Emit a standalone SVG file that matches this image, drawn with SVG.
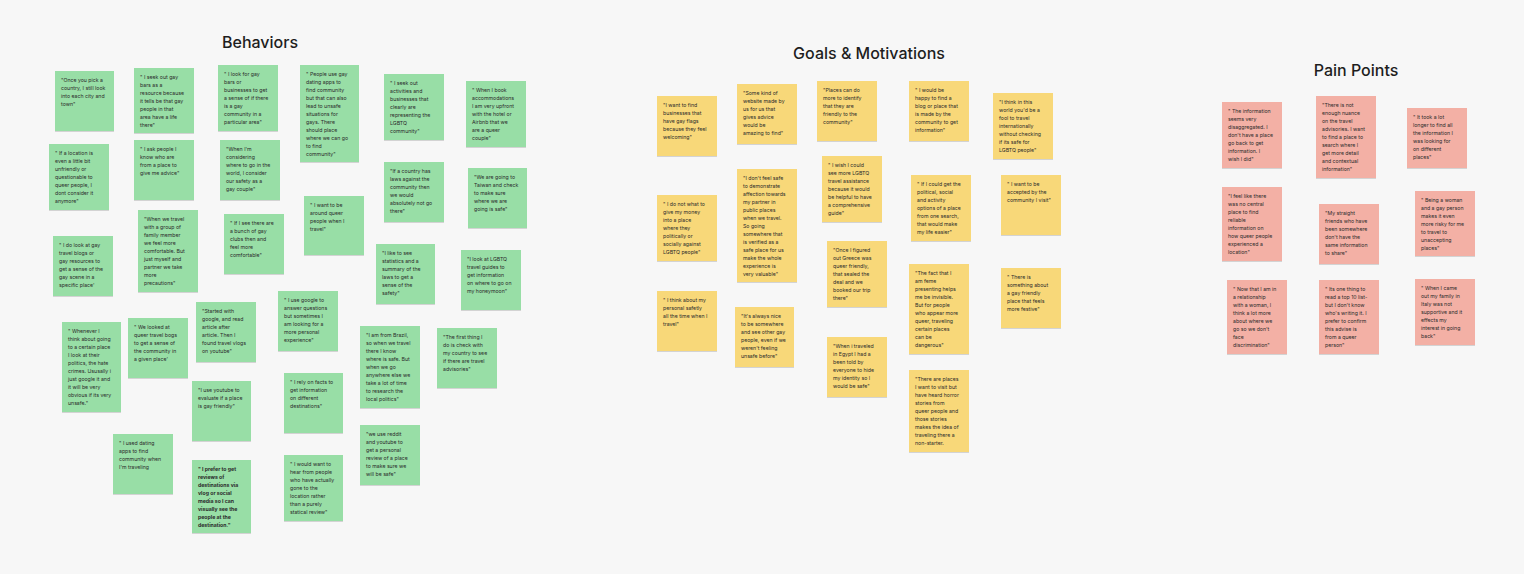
<svg xmlns="http://www.w3.org/2000/svg" width="1524" height="574" viewBox="0 0 1524 574">
<defs>
<filter id="sh" x="-10%" y="-10%" width="120%" height="125%"><feDropShadow dx="0" dy="0.8" stdDeviation="0.7" flood-color="#000" flood-opacity="0.18"/></filter>
<style>
.g{fill:#98dea6;filter:url(#sh)}
.y{fill:#f8d879;filter:url(#sh)}
.p{fill:#f3b0a5;filter:url(#sh)}
.t{font-family:Inter,"Liberation Sans",sans-serif;font-size:5.2px;fill:#2b2b2b}
.b{font-weight:700}
.h{font-family:Inter,"Liberation Sans",sans-serif;font-size:16px;font-weight:500;fill:#1e1e1e;text-anchor:middle}
</style>
</defs>
<rect width="1524" height="574" fill="#f7f7f7"/>
<g id="titles">
<text class="h" x="260" y="48">Behaviors</text>
<text class="h" x="869" y="59">Goals &amp; Motivations</text>
<text class="h" x="1356" y="76">Pain Points</text>
</g>
<g id="connectors"/>
<g id="behaviors">
<g id="b1" transform="translate(55,71)"><rect class="g" width="59" height="60"/><text class="t" y="3"><tspan x="6" dy="8">"Once you pick a</tspan><tspan x="6" dy="8">country, I still look</tspan><tspan x="6" dy="8">into each city and</tspan><tspan x="6" dy="8">town"</tspan></text></g>
<g id="b2" transform="translate(134,68)"><rect class="g" width="60" height="65"/><text class="t" y="3"><tspan x="6" dy="8">" I seek out gay</tspan><tspan x="6" dy="8">bars as a</tspan><tspan x="6" dy="8">resource because</tspan><tspan x="6" dy="8">it tells be that gay</tspan><tspan x="6" dy="8">people in that</tspan><tspan x="6" dy="8">area have a life</tspan><tspan x="6" dy="8">there"</tspan></text></g>
<g id="b3" transform="translate(218,65)"><rect class="g" width="60" height="66"/><text class="t" y="3"><tspan x="6" dy="8">" I look for gay</tspan><tspan x="6" dy="8">bars or</tspan><tspan x="6" dy="8">businesses to get</tspan><tspan x="6" dy="8">a sense of if there</tspan><tspan x="6" dy="8">is a gay</tspan><tspan x="6" dy="8">community in a</tspan><tspan x="6" dy="8">particular area"</tspan></text></g>
<g id="b4" transform="translate(300,65)"><rect class="g" width="59" height="97"/><text class="t" y="3"><tspan x="6" dy="8">" People use gay</tspan><tspan x="6" dy="8">dating apps to</tspan><tspan x="6" dy="8">find community</tspan><tspan x="6" dy="8">but that can also</tspan><tspan x="6" dy="8">lead to unsafe</tspan><tspan x="6" dy="8">situations for</tspan><tspan x="6" dy="8">gays. There</tspan><tspan x="6" dy="8">should place</tspan><tspan x="6" dy="8">where we can go</tspan><tspan x="6" dy="8">to find</tspan><tspan x="6" dy="8">community"</tspan></text></g>
<g id="b5" transform="translate(384,74)"><rect class="g" width="60" height="66"/><text class="t" y="3"><tspan x="6" dy="8">" I seek out</tspan><tspan x="6" dy="8">activities and</tspan><tspan x="6" dy="8">businesses that</tspan><tspan x="6" dy="8">clearly are</tspan><tspan x="6" dy="8">representing the</tspan><tspan x="6" dy="8">LGBTQ</tspan><tspan x="6" dy="8">community"</tspan></text></g>
<g id="b6" transform="translate(466,81)"><rect class="g" width="60" height="66"/><text class="t" y="3"><tspan x="6" dy="8">" When I book</tspan><tspan x="6" dy="8">accommodations</tspan><tspan x="6" dy="8">I am very upfront</tspan><tspan x="6" dy="8">with the hotel or</tspan><tspan x="6" dy="8">Airbnb that we</tspan><tspan x="6" dy="8">are a queer</tspan><tspan x="6" dy="8">couple"</tspan></text></g>
<g id="b7" transform="translate(49,144)"><rect class="g" width="60" height="66"/><text class="t" y="3"><tspan x="6" dy="8">" If a location is</tspan><tspan x="6" dy="8">even a little bit</tspan><tspan x="6" dy="8">unfriendly or</tspan><tspan x="6" dy="8">questionable to</tspan><tspan x="6" dy="8">queer people, I</tspan><tspan x="6" dy="8">dont consider it</tspan><tspan x="6" dy="8">anymore"</tspan></text></g>
<g id="b8" transform="translate(134,140)"><rect class="g" width="60" height="60"/><text class="t" y="3"><tspan x="6" dy="8">" I ask people I</tspan><tspan x="6" dy="8">know who are</tspan><tspan x="6" dy="8">from a place to</tspan><tspan x="6" dy="8">give me advice"</tspan></text></g>
<g id="b9" transform="translate(220,140)"><rect class="g" width="60" height="60"/><text class="t" y="3"><tspan x="6" dy="8">"When I'm</tspan><tspan x="6" dy="8">considering</tspan><tspan x="6" dy="8">where to go in the</tspan><tspan x="6" dy="8">world, I consider</tspan><tspan x="6" dy="8">our safety as a</tspan><tspan x="6" dy="8">gay couple"</tspan></text></g>
<g id="b10" transform="translate(384,162)"><rect class="g" width="60" height="60"/><text class="t" y="3"><tspan x="6" dy="8">"If a country has</tspan><tspan x="6" dy="8">laws against the</tspan><tspan x="6" dy="8">community then</tspan><tspan x="6" dy="8">we would</tspan><tspan x="6" dy="8">absolutely not go</tspan><tspan x="6" dy="8">there"</tspan></text></g>
<g id="b11" transform="translate(468,168)"><rect class="g" width="59" height="60"/><text class="t" y="3"><tspan x="6" dy="8">"We are going to</tspan><tspan x="6" dy="8">Taiwan and check</tspan><tspan x="6" dy="8">to make sure</tspan><tspan x="6" dy="8">where we are</tspan><tspan x="6" dy="8">going is safe"</tspan></text></g>
<g id="b12" transform="translate(304,196)"><rect class="g" width="60" height="59"/><text class="t" y="3"><tspan x="6" dy="8">" I want to be</tspan><tspan x="6" dy="8">around queer</tspan><tspan x="6" dy="8">people when I</tspan><tspan x="6" dy="8">travel"</tspan></text></g>
<g id="b13" transform="translate(138,210)"><rect class="g" width="60" height="82"/><text class="t" y="3"><tspan x="6" dy="8">"When we travel</tspan><tspan x="6" dy="8">with a group of</tspan><tspan x="6" dy="8">family member</tspan><tspan x="6" dy="8">we feel more</tspan><tspan x="6" dy="8">comfortable. But</tspan><tspan x="6" dy="8">just myself and</tspan><tspan x="6" dy="8">partner we take</tspan><tspan x="6" dy="8">more</tspan><tspan x="6" dy="8">precautions"</tspan></text></g>
<g id="b14" transform="translate(224,214)"><rect class="g" width="60" height="60"/><text class="t" y="3"><tspan x="6" dy="8">" If I see there are</tspan><tspan x="6" dy="8">a bunch of gay</tspan><tspan x="6" dy="8">clubs then and</tspan><tspan x="6" dy="8">feel more</tspan><tspan x="6" dy="8">comfortable"</tspan></text></g>
<g id="b15" transform="translate(53,236)"><rect class="g" width="60" height="60"/><text class="t" y="3"><tspan x="6" dy="8">" I do look at gay</tspan><tspan x="6" dy="8">travel blogs or</tspan><tspan x="6" dy="8">gay resources to</tspan><tspan x="6" dy="8">get a sense of the</tspan><tspan x="6" dy="8">gay scene in a</tspan><tspan x="6" dy="8">specific place'</tspan></text></g>
<g id="b16" transform="translate(376,244)"><rect class="g" width="59" height="60"/><text class="t" y="3"><tspan x="6" dy="8">"I like to see</tspan><tspan x="6" dy="8">statistics and a</tspan><tspan x="6" dy="8">summary of the</tspan><tspan x="6" dy="8">laws to get a</tspan><tspan x="6" dy="8">sense of the</tspan><tspan x="6" dy="8">safety"</tspan></text></g>
<g id="b17" transform="translate(461,250)"><rect class="g" width="60" height="60"/><text class="t" y="3"><tspan x="6" dy="8">"I look at LGBTQ</tspan><tspan x="6" dy="8">travel guides to</tspan><tspan x="6" dy="8">get information</tspan><tspan x="6" dy="8">on where to go on</tspan><tspan x="6" dy="8">my honeymoon"</tspan></text></g>
<g id="b18" transform="translate(278,291)"><rect class="g" width="60" height="60"/><text class="t" y="3"><tspan x="6" dy="8">" I use google to</tspan><tspan x="6" dy="8">answer questions</tspan><tspan x="6" dy="8">but sometimes I</tspan><tspan x="6" dy="8">am looking for a</tspan><tspan x="6" dy="8">more personal</tspan><tspan x="6" dy="8">experience"</tspan></text></g>
<g id="b19" transform="translate(196,302)"><rect class="g" width="60" height="60"/><text class="t" y="3"><tspan x="6" dy="8">"Started with</tspan><tspan x="6" dy="8">google, and read</tspan><tspan x="6" dy="8">article after</tspan><tspan x="6" dy="8">article. Then I</tspan><tspan x="6" dy="8">found travel vlogs</tspan><tspan x="6" dy="8">on youtube"</tspan></text></g>
<g id="b20" transform="translate(62,322)"><rect class="g" width="59" height="90"/><text class="t" y="3"><tspan x="6" dy="8">" Whenever I</tspan><tspan x="6" dy="8">think about going</tspan><tspan x="6" dy="8">to a certain place</tspan><tspan x="6" dy="8">I look at their</tspan><tspan x="6" dy="8">politics, the hate</tspan><tspan x="6" dy="8">crimes. Ususally i</tspan><tspan x="6" dy="8">just google it and</tspan><tspan x="6" dy="8">it will be very</tspan><tspan x="6" dy="8">obvious if its very</tspan><tspan x="6" dy="8">unsafe."</tspan></text></g>
<g id="b21" transform="translate(128,318)"><rect class="g" width="60" height="60"/><text class="t" y="3"><tspan x="6" dy="8">" We looked at</tspan><tspan x="6" dy="8">queer travel bogs</tspan><tspan x="6" dy="8">to get a sense of</tspan><tspan x="6" dy="8">the community in</tspan><tspan x="6" dy="8">a given place'</tspan></text></g>
<g id="b22" transform="translate(360,326)"><rect class="g" width="60" height="82"/><text class="t" y="3"><tspan x="6" dy="8">"I am from Brazil,</tspan><tspan x="6" dy="8">so when we travel</tspan><tspan x="6" dy="8">there I know</tspan><tspan x="6" dy="8">where is safe. But</tspan><tspan x="6" dy="8">when we go</tspan><tspan x="6" dy="8">anywhere else we</tspan><tspan x="6" dy="8">take a lot of time</tspan><tspan x="6" dy="8">to research the</tspan><tspan x="6" dy="8">local politics"</tspan></text></g>
<g id="b23" transform="translate(437,328)"><rect class="g" width="60" height="60"/><text class="t" y="3"><tspan x="6" dy="8">"The first thing I</tspan><tspan x="6" dy="8">do is check with</tspan><tspan x="6" dy="8">my country to see</tspan><tspan x="6" dy="8">if there are travel</tspan><tspan x="6" dy="8">advisories"</tspan></text></g>
<g id="b24" transform="translate(284,373)"><rect class="g" width="59" height="60"/><text class="t" y="3"><tspan x="6" dy="8">" I rely on facts to</tspan><tspan x="6" dy="8">get information</tspan><tspan x="6" dy="8">on different</tspan><tspan x="6" dy="8">destinations"</tspan></text></g>
<g id="b25" transform="translate(192,381)"><rect class="g" width="59" height="60"/><text class="t" y="3"><tspan x="6" dy="8">"I use youtube to</tspan><tspan x="6" dy="8">evaluate if a place</tspan><tspan x="6" dy="8">is gay friendly"</tspan></text></g>
<g id="b26" transform="translate(360,425)"><rect class="g" width="60" height="60"/><text class="t" y="3"><tspan x="6" dy="8">"we use reddit</tspan><tspan x="6" dy="8">and youtube to</tspan><tspan x="6" dy="8">get a personal</tspan><tspan x="6" dy="8">review of a place</tspan><tspan x="6" dy="8">to make sure we</tspan><tspan x="6" dy="8">will be safe"</tspan></text></g>
<g id="b27" transform="translate(113,434)"><rect class="g" width="60" height="60"/><text class="t" y="3"><tspan x="6" dy="8">" I used dating</tspan><tspan x="6" dy="8">apps to find</tspan><tspan x="6" dy="8">community when</tspan><tspan x="6" dy="8">I'm traveling</tspan></text></g>
<g id="b28" transform="translate(284,455)"><rect class="g" width="59" height="66"/><text class="t" y="3"><tspan x="6" dy="8">" I would want to</tspan><tspan x="6" dy="8">hear from people</tspan><tspan x="6" dy="8">who have actually</tspan><tspan x="6" dy="8">gone to the</tspan><tspan x="6" dy="8">location rather</tspan><tspan x="6" dy="8">than a purely</tspan><tspan x="6" dy="8">statical review"</tspan></text></g>
<g id="b29" transform="translate(192,460)"><rect class="g" width="59" height="73"/><text class="t b" y="3"><tspan x="6" dy="8">" I prefer to get</tspan><tspan x="6" dy="8">reviews of</tspan><tspan x="6" dy="8">destinations via</tspan><tspan x="6" dy="8">vlog or social</tspan><tspan x="6" dy="8">media so I can</tspan><tspan x="6" dy="8">visually see the</tspan><tspan x="6" dy="8">people at the</tspan><tspan x="6" dy="8">destination."</tspan></text></g>
</g>
<g id="goals">
<g id="g1" transform="translate(657,96)"><rect class="y" width="60" height="60"/><text class="t" y="3"><tspan x="6" dy="8">"I want to find</tspan><tspan x="6" dy="8">businesses that</tspan><tspan x="6" dy="8">have gay flags</tspan><tspan x="6" dy="8">because they feel</tspan><tspan x="6" dy="8">welcoming"</tspan></text></g>
<g id="g2" transform="translate(737,84)"><rect class="y" width="60" height="60"/><text class="t" y="3"><tspan x="6" dy="8">"Some kind of</tspan><tspan x="6" dy="8">website made by</tspan><tspan x="6" dy="8">us for us that</tspan><tspan x="6" dy="8">gives advice</tspan><tspan x="6" dy="8">would be</tspan><tspan x="6" dy="8">amazing to find"</tspan></text></g>
<g id="g3" transform="translate(817,81)"><rect class="y" width="60" height="60"/><text class="t" y="3"><tspan x="6" dy="8">"Places can do</tspan><tspan x="6" dy="8">more to identify</tspan><tspan x="6" dy="8">that they are</tspan><tspan x="6" dy="8">friendly to the</tspan><tspan x="6" dy="8">community"</tspan></text></g>
<g id="g4" transform="translate(909,81)"><rect class="y" width="60" height="60"/><text class="t" y="3"><tspan x="6" dy="8">" I would be</tspan><tspan x="6" dy="8">happy to find a</tspan><tspan x="6" dy="8">blog or place that</tspan><tspan x="6" dy="8">is made by the</tspan><tspan x="6" dy="8">community to get</tspan><tspan x="6" dy="8">information"</tspan></text></g>
<g id="g5" transform="translate(993,93)"><rect class="y" width="60" height="66"/><text class="t" y="3"><tspan x="6" dy="8">"I think in this</tspan><tspan x="6" dy="8">world you'd be a</tspan><tspan x="6" dy="8">fool to travel</tspan><tspan x="6" dy="8">internationally</tspan><tspan x="6" dy="8">without checking</tspan><tspan x="6" dy="8">if its safe for</tspan><tspan x="6" dy="8">LGBTQ people"</tspan></text></g>
<g id="g6" transform="translate(657,195)"><rect class="y" width="60" height="66"/><text class="t" y="3"><tspan x="6" dy="8">" I do not what to</tspan><tspan x="6" dy="8">give my money</tspan><tspan x="6" dy="8">into a place</tspan><tspan x="6" dy="8">where they</tspan><tspan x="6" dy="8">politically or</tspan><tspan x="6" dy="8">socially against</tspan><tspan x="6" dy="8">LGBTQ people"</tspan></text></g>
<g id="g7" transform="translate(737,169)"><rect class="y" width="60" height="113"/><text class="t" y="3"><tspan x="6" dy="8">"I don't feel safe</tspan><tspan x="6" dy="8">to demonstrate</tspan><tspan x="6" dy="8">affection towards</tspan><tspan x="6" dy="8">my partner in</tspan><tspan x="6" dy="8">public places</tspan><tspan x="6" dy="8">when we travel.</tspan><tspan x="6" dy="8">So going</tspan><tspan x="6" dy="8">somewhere that</tspan><tspan x="6" dy="8">is verified as a</tspan><tspan x="6" dy="8">safe place for us</tspan><tspan x="6" dy="8">make the whole</tspan><tspan x="6" dy="8">experience is</tspan><tspan x="6" dy="8">very valuable"</tspan></text></g>
<g id="g8" transform="translate(822,156)"><rect class="y" width="60" height="66"/><text class="t" y="3"><tspan x="6" dy="8">" I wish I could</tspan><tspan x="6" dy="8">see more LGBTQ</tspan><tspan x="6" dy="8">travel assistance</tspan><tspan x="6" dy="8">because it would</tspan><tspan x="6" dy="8">be helpful to have</tspan><tspan x="6" dy="8">a comprehensive</tspan><tspan x="6" dy="8">guide"</tspan></text></g>
<g id="g9" transform="translate(911,175)"><rect class="y" width="60" height="66"/><text class="t" y="3"><tspan x="6" dy="8">" If I could get the</tspan><tspan x="6" dy="8">political, social</tspan><tspan x="6" dy="8">and activity</tspan><tspan x="6" dy="8">options of a place</tspan><tspan x="6" dy="8">from one search,</tspan><tspan x="6" dy="8">that would make</tspan><tspan x="6" dy="8">my life easier"</tspan></text></g>
<g id="g10" transform="translate(1001,175)"><rect class="y" width="60" height="60"/><text class="t" y="3"><tspan x="6" dy="8">" I want to be</tspan><tspan x="6" dy="8">accepted by the</tspan><tspan x="6" dy="8">community I visit"</tspan></text></g>
<g id="g11" transform="translate(827,241)"><rect class="y" width="60" height="66"/><text class="t" y="3"><tspan x="6" dy="8">"Once I figured</tspan><tspan x="6" dy="8">out Greece was</tspan><tspan x="6" dy="8">queer friendly,</tspan><tspan x="6" dy="8">that sealed the</tspan><tspan x="6" dy="8">deal and we</tspan><tspan x="6" dy="8">booked our trip</tspan><tspan x="6" dy="8">there"</tspan></text></g>
<g id="g12" transform="translate(909,264)"><rect class="y" width="60" height="90"/><text class="t" y="3"><tspan x="6" dy="8">"The fact that I</tspan><tspan x="6" dy="8">am feme</tspan><tspan x="6" dy="8">presenting helps</tspan><tspan x="6" dy="8">me be invisible.</tspan><tspan x="6" dy="8">But for people</tspan><tspan x="6" dy="8">who appear more</tspan><tspan x="6" dy="8">queer, traveling</tspan><tspan x="6" dy="8">certain places</tspan><tspan x="6" dy="8">can be</tspan><tspan x="6" dy="8">dangerous"</tspan></text></g>
<g id="g13" transform="translate(1001,268)"><rect class="y" width="60" height="60"/><text class="t" y="3"><tspan x="6" dy="8">" There is</tspan><tspan x="6" dy="8">something about</tspan><tspan x="6" dy="8">a gay friendly</tspan><tspan x="6" dy="8">place that feels</tspan><tspan x="6" dy="8">more festive"</tspan></text></g>
<g id="g14" transform="translate(657,291)"><rect class="y" width="60" height="60"/><text class="t" y="3"><tspan x="6" dy="8">" I think about my</tspan><tspan x="6" dy="8">personal safetly</tspan><tspan x="6" dy="8">all the time when I</tspan><tspan x="6" dy="8">travel"</tspan></text></g>
<g id="g15" transform="translate(735,307)"><rect class="y" width="59" height="60"/><text class="t" y="3"><tspan x="6" dy="8">"It's always nice</tspan><tspan x="6" dy="8">to be somewhere</tspan><tspan x="6" dy="8">and see other gay</tspan><tspan x="6" dy="8">people, even if we</tspan><tspan x="6" dy="8">weren't feeling</tspan><tspan x="6" dy="8">unsafe before"</tspan></text></g>
<g id="g16" transform="translate(827,337)"><rect class="y" width="60" height="60"/><text class="t" y="3"><tspan x="6" dy="8">"When i traveled</tspan><tspan x="6" dy="8">in Egypt I had a</tspan><tspan x="6" dy="8">been told by</tspan><tspan x="6" dy="8">everyone to hide</tspan><tspan x="6" dy="8">my identity so I</tspan><tspan x="6" dy="8">would be safe"</tspan></text></g>
<g id="g17" transform="translate(909,370)"><rect class="y" width="60" height="82"/><text class="t" y="3"><tspan x="6" dy="8">"There are places</tspan><tspan x="6" dy="8">I want to visit but</tspan><tspan x="6" dy="8">have heard horror</tspan><tspan x="6" dy="8">stories from</tspan><tspan x="6" dy="8">queer people and</tspan><tspan x="6" dy="8">those stories</tspan><tspan x="6" dy="8">makes the idea of</tspan><tspan x="6" dy="8">traveling there a</tspan><tspan x="6" dy="8">non-starter.</tspan></text></g>
</g>
<g id="pain-points">
<g id="p1" transform="translate(1222,102)"><rect class="p" width="60" height="66"/><text class="t" y="3"><tspan x="6" dy="8">" The information</tspan><tspan x="6" dy="8">seems very</tspan><tspan x="6" dy="8">disaggregated. I</tspan><tspan x="6" dy="8">don't have a place</tspan><tspan x="6" dy="8">go back to get</tspan><tspan x="6" dy="8">information. I</tspan><tspan x="6" dy="8">wish I did"</tspan></text></g>
<g id="p2" transform="translate(1316,96)"><rect class="p" width="60" height="82"/><text class="t" y="3"><tspan x="6" dy="8">"There is not</tspan><tspan x="6" dy="8">enough nuance</tspan><tspan x="6" dy="8">on the travel</tspan><tspan x="6" dy="8">advisories. I want</tspan><tspan x="6" dy="8">to find a place to</tspan><tspan x="6" dy="8">search where I</tspan><tspan x="6" dy="8">get more detail</tspan><tspan x="6" dy="8">and contextual</tspan><tspan x="6" dy="8">information"</tspan></text></g>
<g id="p3" transform="translate(1407,108)"><rect class="p" width="60" height="60"/><text class="t" y="3"><tspan x="6" dy="8">" It took a lot</tspan><tspan x="6" dy="8">longer to find all</tspan><tspan x="6" dy="8">the information I</tspan><tspan x="6" dy="8">was looking for</tspan><tspan x="6" dy="8">on different</tspan><tspan x="6" dy="8">places"</tspan></text></g>
<g id="p4" transform="translate(1222,187)"><rect class="p" width="60" height="74"/><text class="t" y="3"><tspan x="6" dy="8">"I feel like there</tspan><tspan x="6" dy="8">was no central</tspan><tspan x="6" dy="8">place to find</tspan><tspan x="6" dy="8">reliable</tspan><tspan x="6" dy="8">information on</tspan><tspan x="6" dy="8">how queer people</tspan><tspan x="6" dy="8">experienced a</tspan><tspan x="6" dy="8">location"</tspan></text></g>
<g id="p5" transform="translate(1319,204)"><rect class="p" width="60" height="60"/><text class="t" y="3"><tspan x="6" dy="8">"My straight</tspan><tspan x="6" dy="8">friends who have</tspan><tspan x="6" dy="8">been somewhere</tspan><tspan x="6" dy="8">don't have the</tspan><tspan x="6" dy="8">same information</tspan><tspan x="6" dy="8">to share"</tspan></text></g>
<g id="p6" transform="translate(1415,191)"><rect class="p" width="60" height="65"/><text class="t" y="3"><tspan x="6" dy="8">" Being a woman</tspan><tspan x="6" dy="8">and a gay person</tspan><tspan x="6" dy="8">makes it even</tspan><tspan x="6" dy="8">more risky for me</tspan><tspan x="6" dy="8">to travel to</tspan><tspan x="6" dy="8">unaccepting</tspan><tspan x="6" dy="8">places"</tspan></text></g>
<g id="p7" transform="translate(1227,280)"><rect class="p" width="60" height="74"/><text class="t" y="3"><tspan x="6" dy="8">" Now that I am in</tspan><tspan x="6" dy="8">a relationship</tspan><tspan x="6" dy="8">with a woman, I</tspan><tspan x="6" dy="8">think a lot more</tspan><tspan x="6" dy="8">about where we</tspan><tspan x="6" dy="8">go so we don't</tspan><tspan x="6" dy="8">face</tspan><tspan x="6" dy="8">discrimination"</tspan></text></g>
<g id="p8" transform="translate(1319,280)"><rect class="p" width="60" height="74"/><text class="t" y="3"><tspan x="6" dy="8">" Its one thing to</tspan><tspan x="6" dy="8">read a top 10 list-</tspan><tspan x="6" dy="8">but I don't know</tspan><tspan x="6" dy="8">who's writing it. I</tspan><tspan x="6" dy="8">prefer to confirm</tspan><tspan x="6" dy="8">this advise is</tspan><tspan x="6" dy="8">from a queer</tspan><tspan x="6" dy="8">person"</tspan></text></g>
<g id="p9" transform="translate(1415,279)"><rect class="p" width="60" height="66"/><text class="t" y="3"><tspan x="6" dy="8">" When I came</tspan><tspan x="6" dy="8">out my family in</tspan><tspan x="6" dy="8">Italy was not</tspan><tspan x="6" dy="8">supportive and it</tspan><tspan x="6" dy="8">effects my</tspan><tspan x="6" dy="8">interest in going</tspan><tspan x="6" dy="8">back"</tspan></text></g>
</g>
</svg>
